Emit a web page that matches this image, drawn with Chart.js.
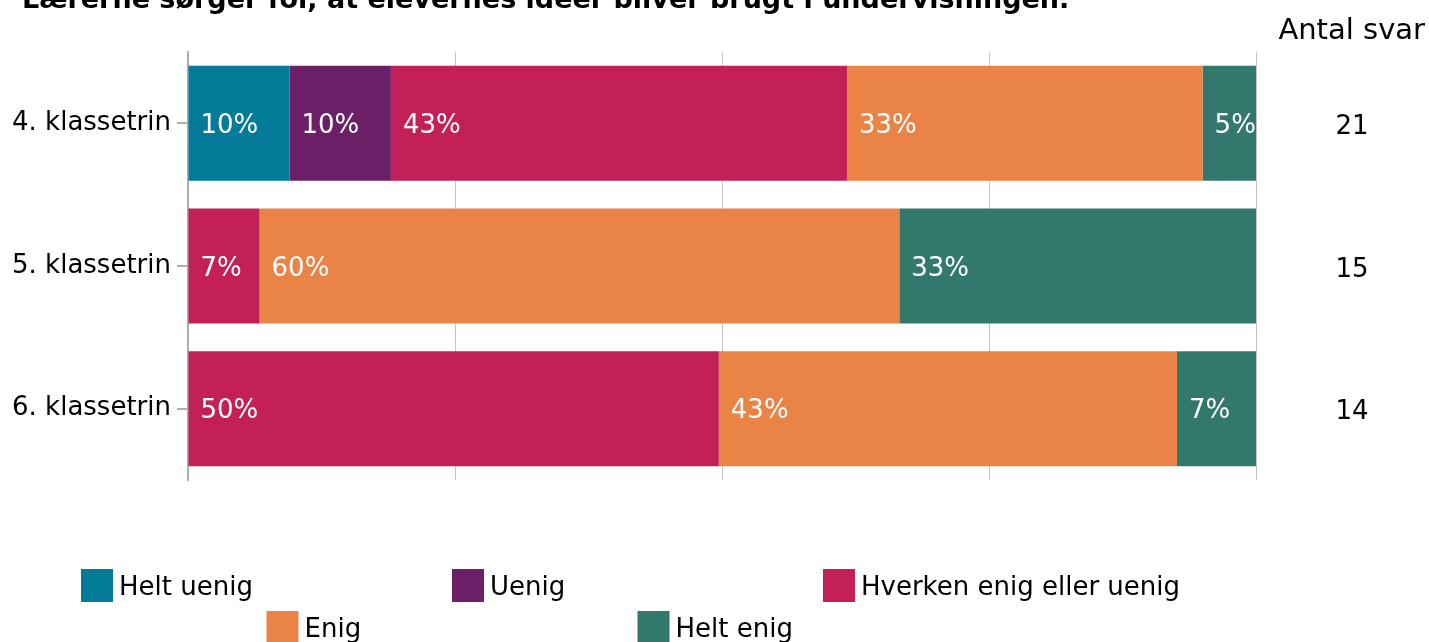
<!DOCTYPE html>
<html lang="da">
<head>
<meta charset="utf-8">
<title>Elevernes ideer i undervisningen</title>
<script src="https://cdn.jsdelivr.net/npm/chart.js@4/dist/chart.umd.min.js"></script>
<style>
  html, body { margin: 0; padding: 0; background: #fff; }
  #wrap { position: relative; width: 1429px; height: 642px; }
</style>
</head>
<body>
<div id="wrap"><canvas id="chart" width="1429" height="642"></canvas></div>
<script>
// Andele i procent pr. klassetrin (svarfordeling)
const titleText = 'Lærerne sørger for, at elevernes ideer bliver brugt i undervisningen.';
const grades = ['4. klassetrin', '5. klassetrin', '6. klassetrin'];
const answerCounts = [21, 15, 14];
const categories = ['Helt uenig', 'Uenig', 'Hverken enig eller uenig', 'Enig', 'Helt enig'];
const heltUenig = [9.5, 0, 0];
const uenig = [9.5, 0, 0];
const hverken = [42.7, 6.7, 49.7];
const enig = [33.3, 59.9, 42.9];
const heltEnig = [5.0, 33.4, 7.4];
const xTicks = [0, 25, 50, 75, 100];

const colors = ['#047b99', '#6b1f67', '#c32057', '#e98346', '#32786c'];
const FONT = '"DejaVu Sans", Verdana, sans-serif';

const seriesValues = [heltUenig, uenig, hverken, enig, heltEnig];

// white percentage text at the left edge of each segment
const segmentLabels = {
  id: 'segmentLabels',
  afterDatasetsDraw(chart) {
    const ctx = chart.ctx;
    ctx.save();
    ctx.font = '26px ' + FONT;
    ctx.fillStyle = '#ffffff';
    ctx.textAlign = 'left';
    ctx.textBaseline = 'middle';
    chart.data.datasets.forEach((ds, i) => {
      const meta = chart.getDatasetMeta(i);
      meta.data.forEach((bar, j) => {
        const v = ds.data[j];
        if (!v) return;
        const left = Math.min(bar.x, bar.base);
        ctx.fillText(Math.round(v) + '%', left + 12, bar.y + 3);
      });
    });
    ctx.restore();
  }
};

// title, answer counts and the legend grid
const extras = {
  id: 'extras',
  afterDraw(chart) {
    const ctx = chart.ctx;
    const yScale = chart.scales.y;
    ctx.save();

    ctx.font = 'bold 27px ' + FONT;
    ctx.fillStyle = '#000';
    ctx.textAlign = 'left';
    ctx.textBaseline = 'alphabetic';
    ctx.fillText(titleText, 22, 8);

    ctx.font = '29px ' + FONT;
    ctx.textAlign = 'right';
    ctx.textBaseline = 'middle';
    ctx.fillText('Antal svar', 1425, 31);

    ctx.font = '26px ' + FONT;
    ctx.textAlign = 'center';
    answerCounts.forEach((n, i) => {
      ctx.fillText(String(n), 1352, yScale.getPixelForValue(i) + 4);
    });

    // legend: three columns, second row shifted half a column
    const colW = 371;
    const startX = 81;
    ctx.textAlign = 'left';
    chart.data.datasets.forEach((ds, i) => {
      const row = i < 3 ? 0 : 1;
      const col = row === 0 ? i : i - 3;
      const x = startX + col * colW + (row ? colW / 2 : 0);
      const y = 569 + row * 42;
      ctx.fillStyle = ds.backgroundColor;
      ctx.fillRect(x, y, 32, 33);
      ctx.fillStyle = '#000';
      ctx.fillText(ds.label, x + 38, y + 19);
    });
    ctx.restore();
  }
};

new Chart(document.getElementById('chart'), {
  type: 'bar',
  data: {
    labels: grades,
    datasets: categories.map((name, i) => ({
      label: name,
      data: seriesValues[i],
      backgroundColor: colors[i],
      borderWidth: 0,
      categoryPercentage: 1,
      barPercentage: 0.806
    }))
  },
  options: {
    indexAxis: 'y',
    responsive: false,
    animation: false,
    layout: { padding: { top: 52, bottom: 162, left: 0, right: 173 } },
    plugins: {
      legend: { display: false },
      tooltip: { enabled: false }
    },
    scales: {
      x: {
        stacked: true,
        min: 0,
        max: 100,
        afterBuildTicks(scale) { scale.ticks = xTicks.map(v => ({ value: v })); },
        afterFit(scale) { scale.height = 0; },
        ticks: { display: false },
        border: { display: false },
        grid: { color: '#c4c4c4', lineWidth: 1, drawTicks: false }
      },
      y: {
        stacked: true,
        afterFit(scale) { scale.width = 188; },
        ticks: {
          color: '#000',
          font: { family: FONT, size: 26 },
          padding: 6
        },
        border: { display: true, color: '#a9adb0', width: 2 },
        grid: {
          offset: false,
          drawOnChartArea: false,
          color: '#a9adb0',
          lineWidth: 2,
          tickLength: 11
        }
      }
    }
  },
  plugins: [segmentLabels, extras]
});
</script>
</body>
</html>
